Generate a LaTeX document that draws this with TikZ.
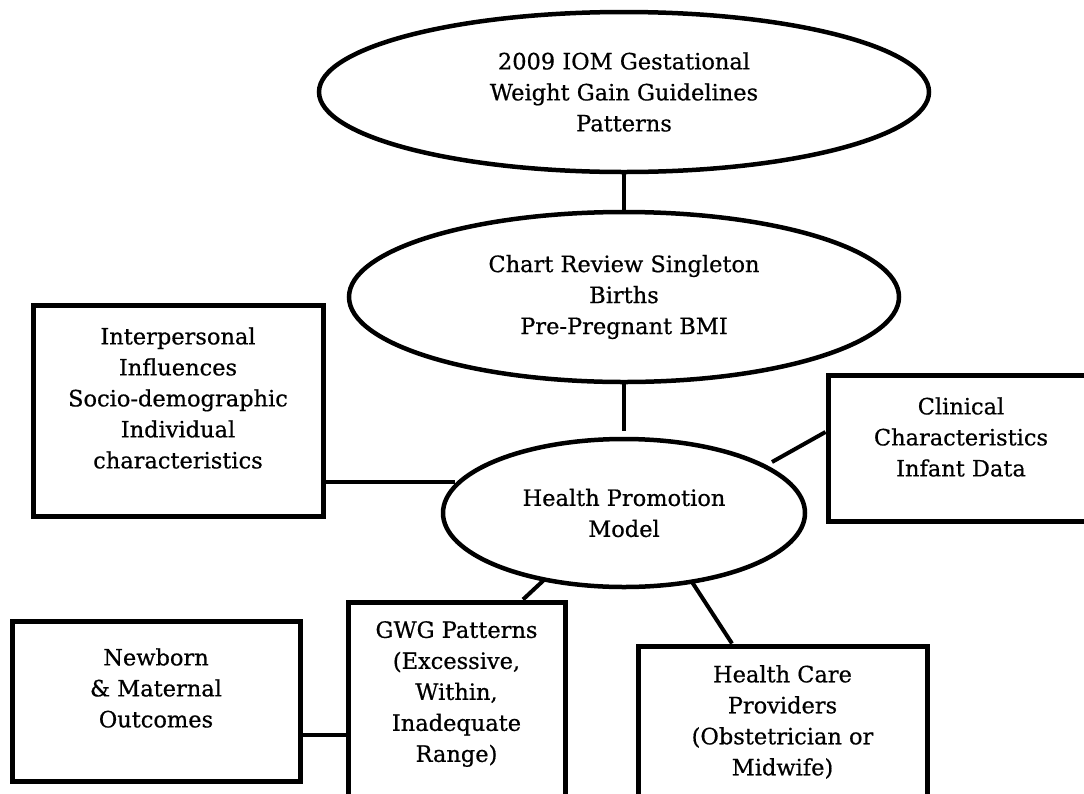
\documentclass[tikz,border=0pt]{standalone}
\usepackage{fontspec}
\setmainfont{DejaVu Serif}[FakeBold=0.6]
\usetikzlibrary{shapes.geometric,calc}
\tikzset{
  oval/.style={ellipse, draw, line width=4.5pt, inner sep=0pt, align=center,
    font=\fontsize{22.5}{31}\selectfont},
  frame/.style={rectangle, draw, line width=5pt, inner sep=0pt},
  caption/.style={align=center, inner sep=0pt, font=\fontsize{22.5}{31}\selectfont},
  link/.style={line width=4pt},
}
\begin{document}
\begin{tikzpicture}[x=1pt,y=-1pt]
\useasboundingbox (0,0) rectangle (1084,793);
\fill[white] (0,0) rectangle (1084,793);
\clip (0,0) rectangle (1084,793);

% ovals
\node[oval, minimum width=610, minimum height=160] (iom) at (624,92)
  {2009 IOM Gestational\\Weight Gain Guidelines\\Patterns};
\node[oval, minimum width=550, minimum height=170] (chart) at (624,297)
  {Chart Review Singleton\\Births\\Pre-Pregnant BMI};
\node[oval, minimum width=362, minimum height=148] (hpm) at (624,513)
  {Health Promotion\\Model};

% boxes and their texts
\node[frame, minimum width=290, minimum height=211] (interp) at (178,410.5) {};
\node[caption] (interpT) at (178,398)
  {Interpersonal\\Influences\\Socio-demographic\\Individual\\characteristics};

\node[frame, minimum width=266, minimum height=146] (clin) at (961,448) {};
\node[caption] (clinT) at (961,437) {Clinical\\Characteristics\\Infant Data};

\node[frame, minimum width=288, minimum height=160] (newb) at (156,701) {};
\node[caption] (newbT) at (156,688) {Newborn\\\& Maternal\\Outcomes};

\node[frame, minimum width=217, minimum height=240] (gwg) at (456.5,722) {};
\node[caption] (gwgT) at (456.5,694)
  {GWG Patterns\\(Excessive,\\Within,\\Inadequate\\Range)};

\node[frame, minimum width=289, minimum height=200] (hcp) at (782.5,746) {};
\node[caption] (hcpT) at (782.5,722)
  {Health Care\\Providers\\(Obstetrician or\\Midwife)};

% connectors
\draw[link] (iom.south) -- (chart.north);
\draw[link] (chart.south) -- ($(hpm.north)+(0,-6)$);

\coordinate (lEnd) at (455,482);
\draw[link] (lEnd -| interp.east) -- (lEnd);

\coordinate (rStart) at (772,462);
\coordinate (rEnd) at (828,432);
\draw[link] (rStart) -- (clin.west |- rEnd);

\coordinate (gTop) at (523,602);
\coordinate (gEnd) at (545,579);
\draw[link] (gwg.north -| gTop) -- (gEnd);

\coordinate (hTop) at (732,646);
\coordinate (hEnd) at (692,582);
\draw[link] (hcp.north -| hTop) -- (hEnd);

\coordinate (nLink) at (0,735);
\draw[link] (newb.east |- nLink) -- (gwg.west |- nLink);
\end{tikzpicture}
\end{document}
